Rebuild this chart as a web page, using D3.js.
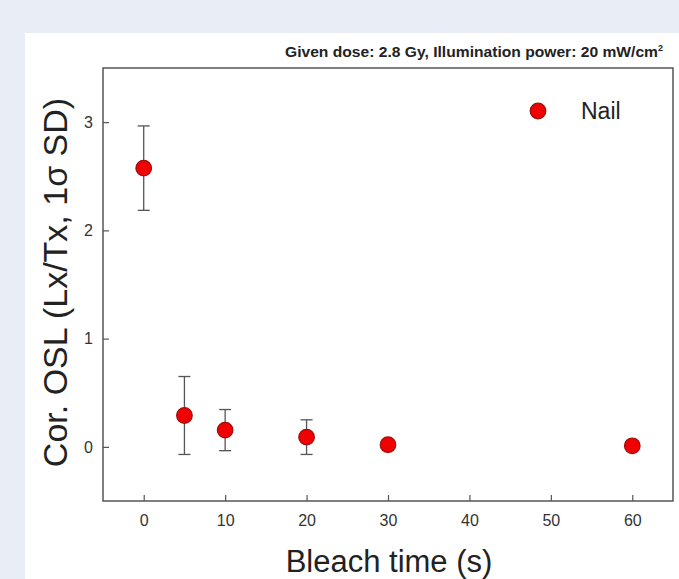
<!DOCTYPE html>
<html><head><meta charset="utf-8">
<script src="https://cdn.jsdelivr.net/npm/d3@7"></script>
<style>
html,body{margin:0;padding:0;background:#e9edf6;}
svg{display:block;}
</style></head>
<body>
<svg id="chart" width="679" height="579"></svg>
<script>
const bleachTimes = [0, 5, 10, 20, 30, 60];
const oslValues = [2.575, 0.29, 0.155, 0.09, 0.02, 0.01];
const oslErrors = [0.39, 0.36, 0.19, 0.16, 0, 0];
const xTicks = [0, 10, 20, 30, 40, 50, 60];
const yTicks = [0, 1, 2, 3];
const seriesName = "Nail";
const titleText = "Given dose: 2.8 Gy, Illumination power: 20 mW/cm";

const svg = d3.select("#chart");
svg.append("rect").attr("x",25).attr("y",33).attr("width",679-25).attr("height",579-33).attr("fill","#ffffff");

const L=103, R=673, T=68, B=501;
const x = d3.scaleLinear().domain([-5,65]).range([L,R]);
const y = d3.scaleLinear().domain([-0.5,3.5]).range([B,T]);
const axisColor = "#555";
const textColor = "#333";
const font = "Liberation Sans, Arial, sans-serif";

// x axis
const gx = svg.append("g").attr("transform",`translate(0,${B})`)
  .call(d3.axisBottom(x).tickValues(xTicks).tickFormat(d3.format("d")).tickSizeInner(-6).tickSizeOuter(0).tickPadding(14));
gx.select(".domain").remove();
gx.selectAll("line").attr("stroke",axisColor).attr("stroke-width",1.2);
gx.selectAll("text").attr("fill",textColor).attr("font-family",font).attr("font-size",16);

const gy = svg.append("g").attr("transform",`translate(${L},0)`)
  .call(d3.axisLeft(y).tickValues(yTicks).tickFormat(d3.format("d")).tickSizeInner(-6).tickSizeOuter(0).tickPadding(10));
gy.select(".domain").remove();
gy.selectAll("line").attr("stroke",axisColor).attr("stroke-width",1.2);
gy.selectAll("text").attr("fill",textColor).attr("font-family",font).attr("font-size",16);

// frame
svg.append("rect").attr("x",L).attr("y",T).attr("width",R-L).attr("height",B-T)
  .attr("fill","none").attr("stroke",axisColor).attr("stroke-width",1.5);

// error bars
const data = bleachTimes.map((t,i)=>({t, v:oslValues[i], e:oslErrors[i]}));
const eb = svg.append("g").attr("stroke","#555").attr("stroke-width",1.3);
data.filter(d=>d.e>0).forEach(d=>{
  eb.append("line").attr("x1",x(d.t)).attr("x2",x(d.t)).attr("y1",y(d.v+d.e)).attr("y2",y(d.v-d.e));
  [d.v+d.e, d.v-d.e].forEach(vv=>{
    eb.append("line").attr("x1",x(d.t)-6).attr("x2",x(d.t)+6).attr("y1",y(vv)).attr("y2",y(vv));
  });
});

// points
svg.append("g").selectAll("circle").data(data).join("circle")
  .attr("cx",d=>x(d.t)).attr("cy",d=>y(d.v)).attr("r",7.8)
  .attr("fill","#f00000").attr("stroke","#9a1010").attr("stroke-width",1.2);

// legend
svg.append("circle").attr("cx",538).attr("cy",111).attr("r",7.8)
  .attr("fill","#f00000").attr("stroke","#9a1010").attr("stroke-width",1.2);
svg.append("text").attr("x",581).attr("y",119).text(seriesName)
  .attr("font-family",font).attr("font-size",23).attr("fill","#222");

// title
const tt = svg.append("text").attr("x",285).attr("y",57)
  .attr("font-family",font).attr("font-weight","bold")
  .attr("font-size",15).attr("fill","#222");
tt.append("tspan").attr("textLength",373).attr("lengthAdjust","spacingAndGlyphs").text(titleText);
tt.append("tspan").attr("dy",-6).attr("font-size",9).text("2");

// axis titles
svg.append("text").attr("x",389).attr("y",572).attr("text-anchor","middle")
  .attr("font-family",font).attr("font-size",31).attr("fill","#222")
  .text("Bleach time (s)");
svg.append("text").attr("transform",`translate(67,${(95+470)/2}) rotate(-90)`).attr("text-anchor","middle")
  .attr("font-family",font).attr("font-size",34).attr("fill","#222")
  .text("Cor. OSL (Lx/Tx, 1σ SD)");
</script>
</body></html>
